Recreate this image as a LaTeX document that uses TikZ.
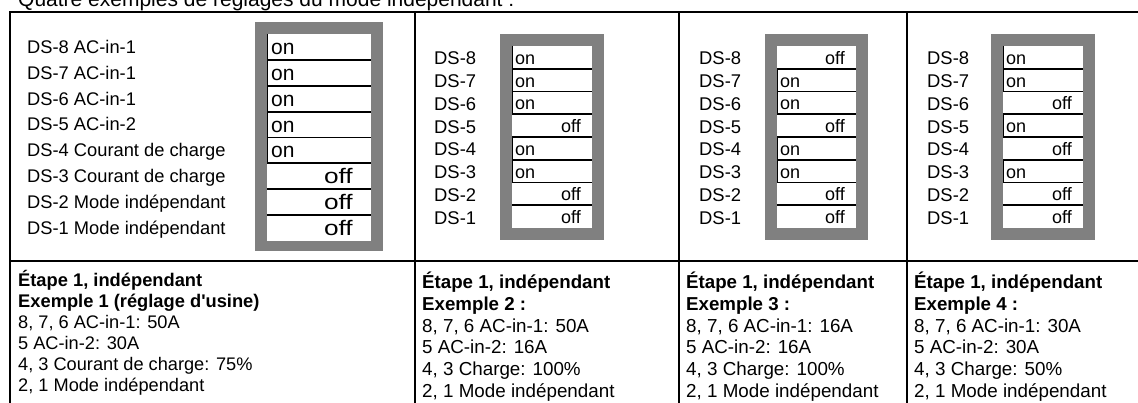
\documentclass[tikz,border=0pt]{standalone}
\usepackage{fontspec}
\setmainfont{Liberation Sans}[Ligatures=TeXOff]
\definecolor{swgray}{HTML}{808080}
\tikzset{
  tline/.style={line width=2pt, black},
  sepline/.style={line width=1.8pt, black},
  onedge/.style={line width=1.4pt, black},
  graybox/.style={fill=swgray, draw=none},
  whitebox/.style={fill=white, draw=none},
  lbl/.style={inner sep=0pt, anchor=base west},
  offlbl/.style={inner sep=0pt, anchor=base east},
}
\begin{document}
\begin{tikzpicture}[x=1pt,y=-1pt]
\useasboundingbox (0,0) rectangle (1138,403);
\clip (0,0) rectangle (1138,403);
% title
\node[lbl, font=\fontsize{21}{24}\selectfont] (title) at (18,7) {Quatre exemples de réglages du mode indépendant :};
% table lines
\draw[tline] (10,403) -- (10,12) -- (1138,12);
\draw[tline] (10,261) -- (1138,261);
\draw[tline] (415,12) -- (415,403);
\draw[tline] (679,12) -- (679,403);
\draw[tline] (907,12) -- (907,403);

% ---------- column 1 ----------
\fill[graybox] (255,22) rectangle (383,251);
\fill[whitebox] (267,34) rectangle (371,241);
\foreach \t [count=\i from 0] in {DS-8 AC-in-1, DS-7 AC-in-1, DS-6 AC-in-1, DS-5 AC-in-2, DS-4 Courant de charge, DS-3 Courant de charge, DS-2 Mode indépendant, DS-1 Mode indépendant}{
  \pgfmathsetmacro\top{34+\i*25.875}
  \node[lbl, font=\fontsize{18.3}{22}\selectfont] (la\i) at (27,\top+19.3) {\t};
  \ifnum\i>0 \draw[sepline] (267,\top) -- (371,\top); \fi
}
\foreach \i in {0,1,2,3,4}{
  \pgfmathsetmacro\top{34+\i*25.875}
  \node[lbl, font=\fontsize{21}{24}\selectfont] (sa\i) at (271,\top+20.5) {on};
  \draw[onedge] (267.7,\top) -- (267.7,\top+25.875);
}
\foreach \i in {5,6,7}{
  \pgfmathsetmacro\top{34+\i*25.875}
  \node[offlbl, font=\fontsize{21}{24}\selectfont, xscale=1.25, transform shape] (sa\i) at (353,\top+20.5) {off};
}

% ---------- columns 2-4 ----------
% column 2
\fill[graybox] (500,34) rectangle (604,240);
\fill[whitebox] (512,46) rectangle (592,228);
% column 3
\fill[graybox] (765,34) rectangle (868,240);
\fill[whitebox] (777,46) rectangle (856,228);
% column 4
\fill[graybox] (991,34) rectangle (1095,240);
\fill[whitebox] (1003,46) rectangle (1083,228);

\foreach \c/\lx/\ix/\ox/\states in {
  b/434/512/592/{1,1,1,0,1,1,0,0},
  c/699/777/856/{0,1,1,0,1,1,0,0},
  d/927/1003/1083/{1,1,0,1,0,1,0,0}}{
  \foreach \st [count=\i from 0] in \states {
    \pgfmathsetmacro\top{46+\i*22.75}
    \pgfmathtruncatemacro\num{8-\i}
    \node[lbl, font=\fontsize{18.4}{22}\selectfont] (l\c\i) at (\lx,\top+19) {DS-\num};
    \ifnum\i>0 \draw[sepline] (\ix,\top) -- (\ox,\top); \fi
    \ifnum\st=1
      \node[lbl, font=\fontsize{18}{22}\selectfont] (s\c\i) at (\ix+3,\top+18.5) {on};
      \draw[onedge] (\ix+0.7,\top) -- (\ix+0.7,\top+22.75);
    \else
      \node[offlbl, font=\fontsize{18}{22}\selectfont] (s\c\i) at (\ox-11,\top+18.5) {off};
    \fi
  }
}

% ---------- bottom texts ----------
\begin{scope}[font=\fontsize{18.2}{21}\selectfont]
\node[lbl, font=\fontsize{18.3}{21}\selectfont\bfseries] (a1) at (18,286.7) {Étape 1, indépendant};
\node[lbl, font=\fontsize{18.3}{21}\selectfont\bfseries] (a2) at (18,307.6) {Exemple 1 (réglage d'usine)};
\node[lbl] (a3) at (18,328.5) {8, 7, 6 AC-in-1: 50A};
\node[lbl] (a4) at (18,349.4) {5 AC-in-2: 30A};
\node[lbl] (a5) at (18,370.3) {4, 3 Courant de charge: 75\%};
\node[lbl] (a6) at (18,391.2) {2, 1 Mode indépendant};
\end{scope}

\foreach \c/\x/\ex/\aa/\ab/\ch in {
  b/422/2/50A/16A/100\%,
  c/686/3/16A/16A/100\%,
  d/914/4/30A/30A/50\%}{
  \begin{scope}[font=\fontsize{18.8}{22}\selectfont]
  \node[lbl, font=\fontsize{18.7}{22}\selectfont\bfseries] (\c1) at (\x,288.7) {Étape 1, indépendant};
  \node[lbl, font=\fontsize{18.7}{22}\selectfont\bfseries] (\c2) at (\x,310.4) {Exemple \ex\ :};
  \node[lbl] (\c3) at (\x,332.1) {8, 7, 6 AC-in-1: \aa};
  \node[lbl] (\c4) at (\x,353.8) {5 AC-in-2: \ab};
  \node[lbl] (\c5) at (\x,375.5) {4, 3 Charge: \ch};
  \node[lbl] (\c6) at (\x,397.2) {2, 1 Mode indépendant};
  \end{scope}
}
\end{tikzpicture}
\end{document}
